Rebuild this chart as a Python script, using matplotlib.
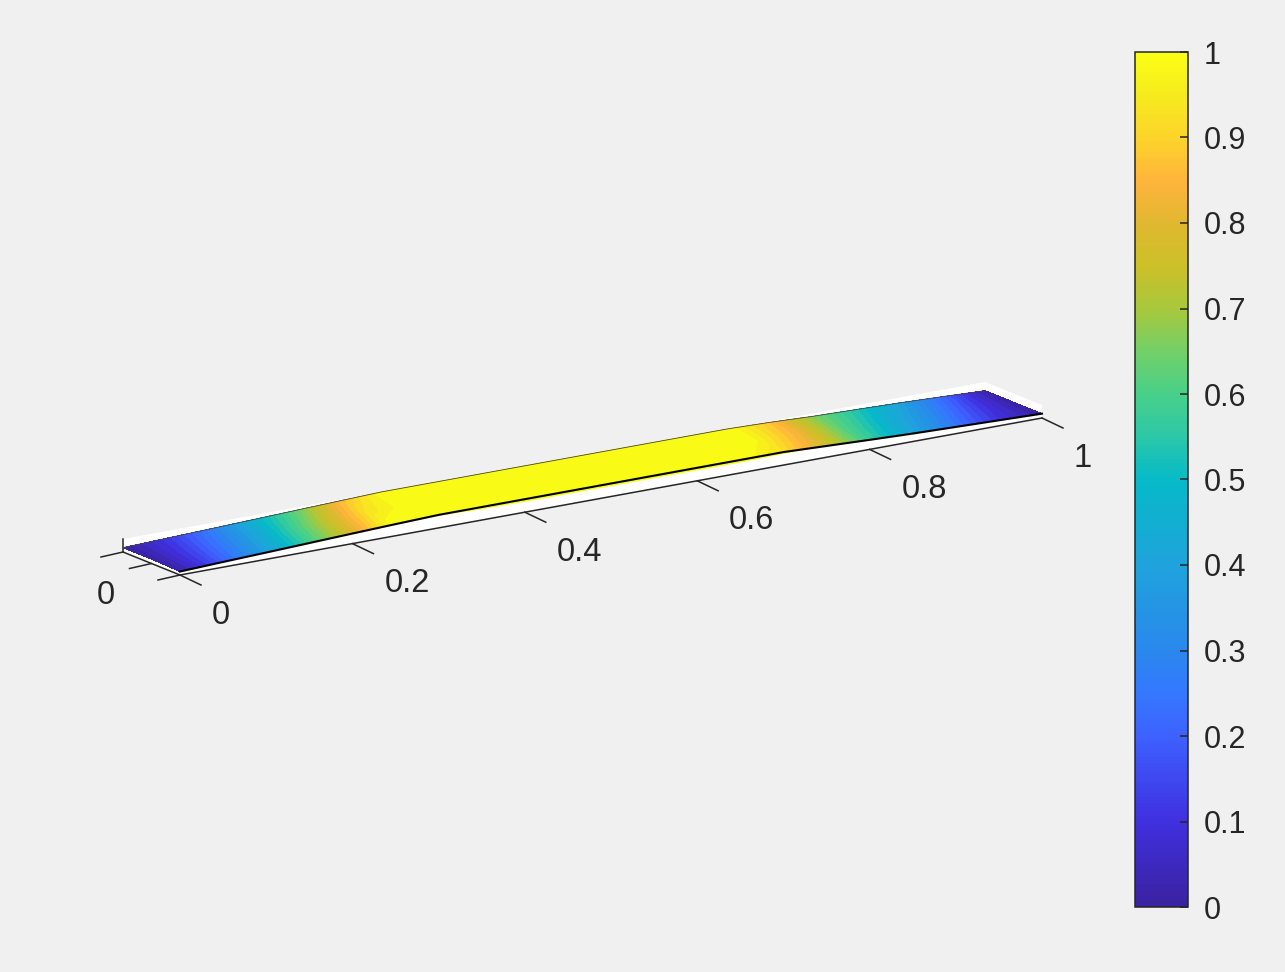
import matplotlib
matplotlib.use('Agg')
import matplotlib.pyplot as plt
import numpy as np
from matplotlib.colors import LinearSegmentedColormap, Normalize
from matplotlib.cm import ScalarMappable

# grid of the surface
x_values = [0, .05, .1, .15, .2, .25, .3, .35, .4, .45, .5, .55, .6, .65, .7, .75, .8, .85, .9, .95, 1]
y_values = [0, .5, 1]
# colour on the surface
front_row = [0, .19, .385, .58, .78, 1, 1, 1, 1, 1, 1, 1, 1, 1, .92, .77, .57, .41, .25, .1, 0]
middle_row = [0, .15, .32, .52, .72, .93, 1, 1, 1, 1, 1, 1, 1, 1, .98, .83, .62, .47, .32, .15, 0]
back_row = [0, .11, .26, .46, .63, .85, 1, 1, 1, 1, 1, 1, 1, 1, 1, .87, .66, .53, .39, .21, 0]
# height of the surface
front_height = [-.1, .1, .28, .47, .66, .84, 1, 1, 1, 1, 1, 1, 1, 1, 1, .8, .6, .42, .28, .14, 0]
middle_height = [0, .15, .3, .48, .66, .86, 1, 1, 1, 1, 1, 1, 1, 1, 1, .83, .62, .47, .32, .15, 0]
back_height = [0, .17, .33, .5, .67, .84, 1, 1, 1, 1, 1, 1, 1, 1, 1, .87, .66, .53, .39, .21, 0]
front_lip = [0, 0, 0, 0, 0, 0, .1, .25, .3, .3, .3, .3, .3, .3, .2, 0, 0, 0, 0, 0, 0]

x_ticks = [0, .2, .4, .6, .8, 1]
x_tick_labels = ['0', '0.2', '0.4', '0.6', '0.8', '1']
y_ticks = [0, .5, 1]
z_limits = [-.5, 1]
bar_ticks = [0, .1, .2, .3, .4, .5, .6, .7, .8, .9, 1]
bar_tick_labels = ['0', '0.1', '0.2', '0.3', '0.4', '0.5', '0.6', '0.7', '0.8', '0.9', '1']

# colormap stops sampled from the colorbar
cmap_stops = [0, .1, .2, .25, .3, .4, .5, .55, .6, .65, .7, .75, .8, .85, .9, .95, 1]
cmap_colors = ['#3a22a0', '#4030e0', '#3d62ff', '#3478ff', '#2a88ec', '#1fa3dc', '#05bac8', '#2cc8a8',
               '#48d08a', '#72d068', '#a8c83c', '#ccc028', '#e0b830', '#ffb43c', '#fdd32a', '#f6ea1e', '#faff14']

W, H = 1285, 972
BG = '#f0f0f0'
INK = '#262626'

plt.rcParams['font.family'] = ['Liberation Sans', 'DejaVu Sans']
parula = LinearSegmentedColormap.from_list('parula_old', list(zip(cmap_stops, cmap_colors)), N=256)
norm = Normalize(0, 1)


def project(x, y, z):
    # orthographic view, gives pixel position
    x, y, z = np.asarray(x, float), np.asarray(y, float), np.asarray(z, float)
    sx = 180 + 862 * x - 57 * y
    sy = 575 - 157 * x - 23 * y - 8.67 * (z - z_limits[0])
    return sx, sy


def poly(ax, xs, ys, zs, **kw):
    sx, sy = project(xs, ys, zs)
    ax.fill(sx, sy, **kw)


fig = plt.figure(figsize=(W / 100, H / 100), dpi=100, facecolor=BG)
ax = fig.add_axes([0, 0, 1, 1])
ax.set_xlim(0, W)
ax.set_ylim(H, 0)
ax.axis('off')

z0, z1 = z_limits
# box faces
poly(ax, [0, 1, 1, 0], [0, 0, 1, 1], [z0, z0, z0, z0], color='white', lw=0)
poly(ax, [0, 1, 1, 0], [1, 1, 1, 1], [z0, z0, z1, z1], color='white', lw=0)
poly(ax, [1, 1, 1, 1], [0, 1, 1, 0], [z0, z0, z1, z1], color='white', lw=0)

# box edges and ticks
sx, sy = project([0, 1], [0, 0], [z0, z0])
ax.plot(sx, sy, color=INK, lw=1.1)
sx, sy = project([0, 0], [0, 1], [z0, z0])
ax.plot(sx, sy, color=INK, lw=1.1)
sx, sy = project([0, 0], [1, 1], [z0, z1])
ax.plot(sx, sy, color=INK, lw=1.1)

for val, lab in zip(x_ticks, x_tick_labels):
    sx, sy = project(val, 0, z0)
    ax.plot([sx, sx + 21], [sy, sy + 10], color=INK, lw=1.1)
    ax.text(sx + 32, sy + 40, lab, color=INK, fontsize=23.5, ha='left', va='center')
for val in y_ticks:
    sx, sy = project(0, val, z0)
    ax.plot([sx, sx - 22], [sy, sy + 5], color=INK, lw=1.1)
sx, sy = project(0, y_ticks[-1], z0)
ax.text(sx - 17, sy + 43, '0', color=INK, fontsize=23.5, ha='center', va='center')

# surface
grid_x, grid_y = np.meshgrid(x_values, y_values)
colour = np.array([front_row, middle_row, back_row])
height = np.array([front_height, middle_height, back_height])
sx, sy = project(grid_x, grid_y, height)
ax.contourf(sx, sy, colour, levels=np.linspace(0, 1.0001, 41), cmap=parula, norm=norm, zorder=3)

# yellow sliver under the front edge
lx, ly = project(x_values, 0, np.array(front_height) - np.array(front_lip))
fx, fy = project(x_values, 0, front_height)
ax.fill(np.r_[fx, lx[::-1]], np.r_[fy, ly[::-1]], color=parula(1.0), lw=0, zorder=3)
ax.plot(fx, fy, color='black', lw=1.5, zorder=4)
bx, by = project(x_values, 1, back_height)
ax.plot(bx, by, color='#444444', lw=0.6, zorder=4)

# colorbar
cax = fig.add_axes([1135 / W, 1 - 907 / H, 53 / W, 855 / H])
cb = fig.colorbar(ScalarMappable(norm=norm, cmap=parula), cax=cax)
cb.set_ticks(bar_ticks, labels=bar_tick_labels)
cax.tick_params(axis='y', direction='in', length=6, width=1.1, color=INK, labelcolor=INK, labelsize=22, pad=11)
cb.outline.set_edgecolor(INK)
cb.outline.set_linewidth(1.1)

fig.savefig('out.png', dpi=100, facecolor=BG)
